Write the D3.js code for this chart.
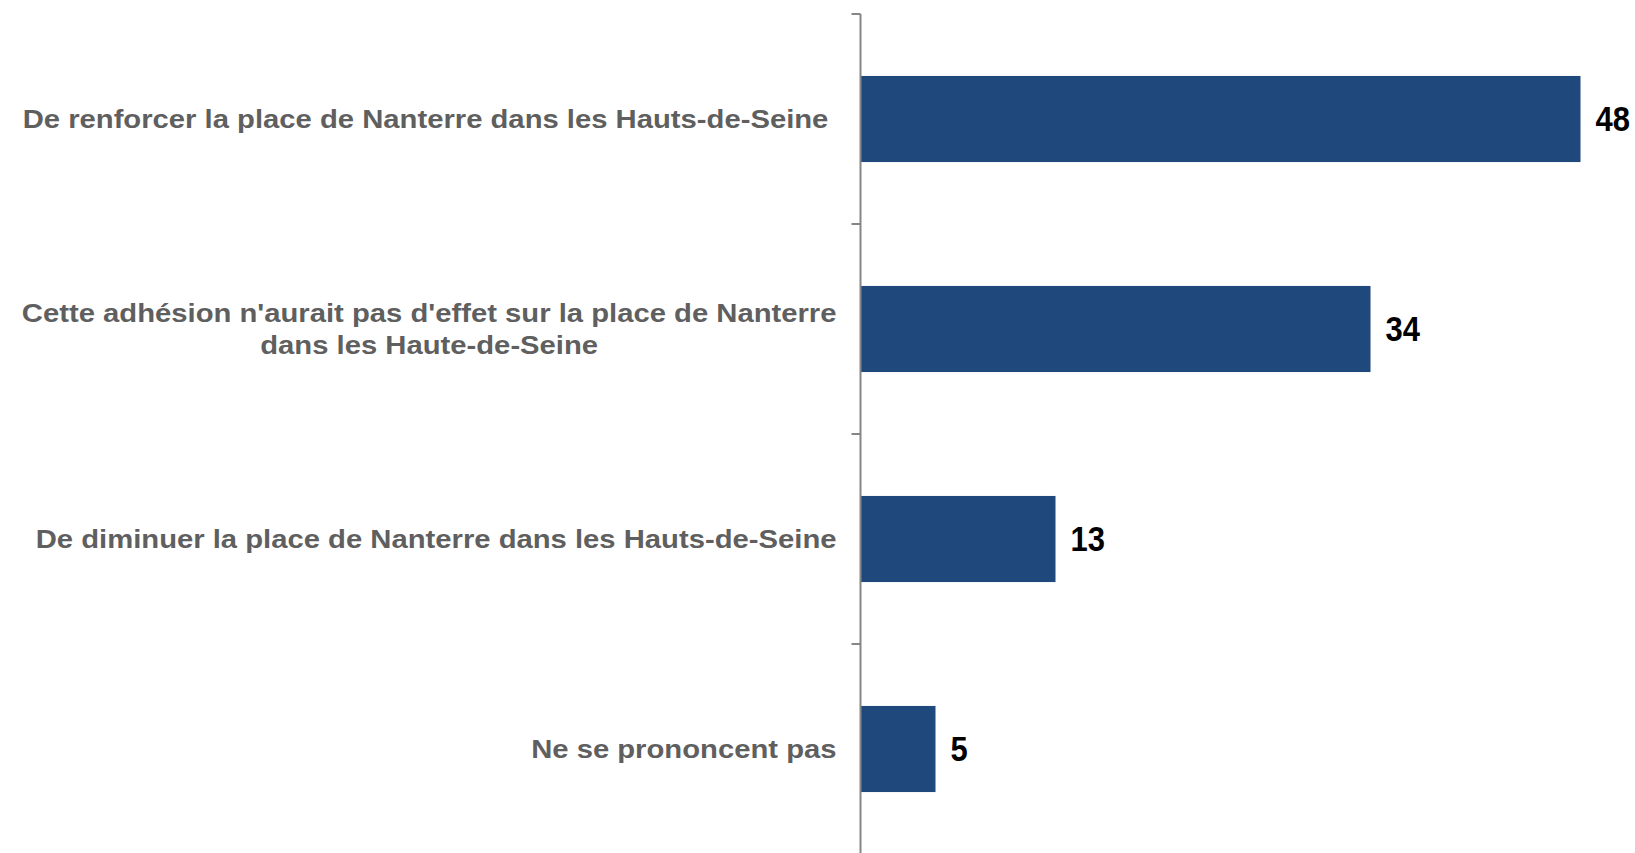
<!DOCTYPE html>
<html>
<head>
<meta charset="utf-8">
<script src="https://cdn.jsdelivr.net/npm/d3@7"></script>
<style>
  html, body { margin: 0; padding: 0; background: #fff; }
  svg { display: block; }
  .cat { font-family: "Liberation Sans", Arial, sans-serif; font-weight: bold; fill: #5f5f5f; }
  .val { font-family: "Liberation Sans", Arial, sans-serif; font-weight: bold; fill: #000; }
</style>
</head>
<body>
<div class="viz"></div>
<script>
var categories = [
    "De renforcer la place de Nanterre dans les Hauts-de-Seine\u00a0",
    "Cette adhésion n'aurait pas d'effet sur la place de Nanterre\ndans les Haute-de-Seine",
    "De diminuer la place de Nanterre dans les Hauts-de-Seine",
    "Ne se prononcent pas"
];
var values = [48, 34, 13, 5];

var width = 1635, height = 853;
var margin = {top: 14, left: 860.5};

// the source picture has stretched lettering
var catStretch = 1.17, valStretch = 1.12;

var svg = d3.select('.viz').append('svg')
    .attr('width', width)
    .attr('height', height);

var x = d3.scaleLinear()
    .domain([0, 50])
    .range([margin.left, margin.left + 750]);

var y = d3.scaleBand()
    .domain(categories)
    .range([margin.top, margin.top + 840])
    .paddingInner(0.59)
    .paddingOuter(0.295);

// bars
svg.selectAll('.bar')
    .data(values)
    .enter().append('rect')
    .attr('class', 'bar')
    .attr('x', x(0))
    .attr('y', function (d, i) { return y(categories[i]); })
    .attr('width', function (d) { return x(d) - x(0); })
    .attr('height', y.bandwidth())
    .attr('fill', '#1f497d');

// axis: line + ticks at band boundaries
var axis = svg.append('g').attr('class', 'axis');
axis.append('line')
    .attr('x1', x(0)).attr('x2', x(0))
    .attr('y1', margin.top).attr('y2', margin.top + 840)
    .attr('stroke', '#868686').attr('stroke-width', 2);

var bounds = categories.map(function (c) { return y(c) - y.step() * y.paddingInner() / 2; });
axis.selectAll('.tick')
    .data(bounds)
    .enter().append('line')
    .attr('x1', x(0) - 9).attr('x2', x(0))
    .attr('y1', function (d) { return d; })
    .attr('y2', function (d) { return d; })
    .attr('stroke', '#868686').attr('stroke-width', 2);

// category labels: right-aligned block, lines centred inside it
svg.selectAll('.catg')
    .data(categories)
    .enter().append('g')
    .attr('class', 'catg')
    .attr('transform', function (d) {
        return 'translate(' + (x(0) - 24) + ',' + (y(d) + y.bandwidth() / 2) + ') scale(' + catStretch + ',1)';
    })
    .each(function (d) {
        var lines = d.split('\n');
        var t = d3.select(this).append('text')
            .attr('class', 'cat')
            .style('font-size', '25px');
        var spans = lines.map(function (line, j) {
            return t.append('tspan')
                .attr('y', (j - (lines.length - 1) / 2) * 32)
                .attr('dy', '0.35em')
                .text(line);
        });
        if (lines.length === 1) {
            t.attr('text-anchor', 'end');
            spans[0].attr('x', 0);
        } else {
            var w = d3.max(spans, function (s) { return s.node().getComputedTextLength(); });
            t.attr('text-anchor', 'middle');
            spans.forEach(function (s) { s.attr('x', -w / 2); });
        }
    });

// value labels
svg.selectAll('.val')
    .data(values)
    .enter().append('text')
    .attr('class', 'val')
    .attr('transform', function (d, i) {
        return 'translate(' + (x(d) + 15) + ',' + (y(categories[i]) + y.bandwidth() / 2) + ') scale(1,' + valStretch + ')';
    })
    .attr('dy', '0.35em')
    .style('font-size', '31px')
    .text(function (d) { return d; });
</script>
</body>
</html>
